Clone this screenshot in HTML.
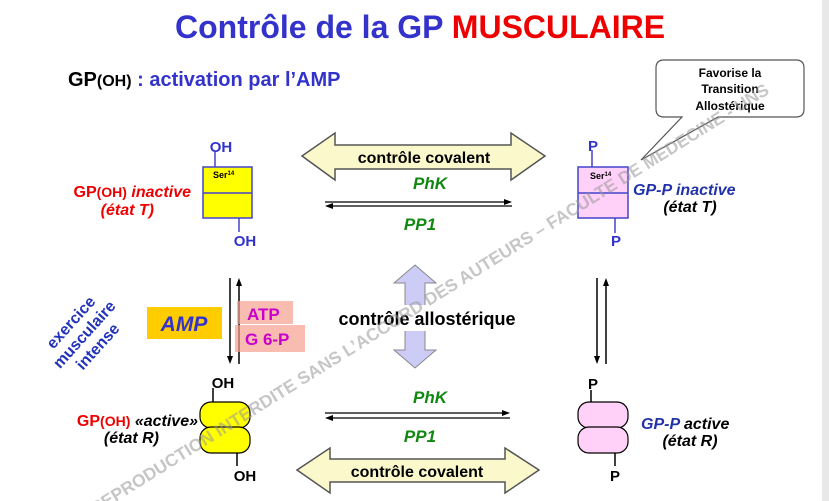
<!DOCTYPE html>
<html><head><meta charset="utf-8"><style>
html,body{margin:0;padding:0;background:#fff;width:829px;height:501px;overflow:hidden}
svg{display:block;font-family:"Liberation Sans",sans-serif}
</style></head><body>
<svg width="829" height="501" viewBox="0 0 829 501" xmlns="http://www.w3.org/2000/svg">
<rect x="822" y="0" width="7" height="501" fill="#e8e8e8"/>
<text x="175" y="38" font-size="32" font-weight="bold" fill="#3333cc">Contrôle de la GP <tspan fill="#ee0000">MUSCULAIRE</tspan></text>
<text x="68" y="86" font-size="20" font-weight="bold" fill="#000">GP<tspan font-size="16">(OH)</tspan> <tspan fill="#3333cc">: activation par l’AMP</tspan></text>

<!-- callout -->
<path d="M664,60 H796 Q804,60 804,68 V109 Q804,117 796,117 H718 L641,160 L682,117 H664 Q656,117 656,109 V68 Q656,60 664,60 Z" fill="#fff" stroke="#555" stroke-width="1.2"/>
<text x="730" y="77" font-size="12" font-weight="bold" text-anchor="middle">Favorise la</text>
<text x="730" y="93" font-size="12" font-weight="bold" text-anchor="middle">Transition</text>
<text x="730" y="110" font-size="12" font-weight="bold" text-anchor="middle">Allostérique</text>

<!-- top covalent arrow -->
<path d="M302,156 L335,133 V145 H511 V133 L545,156 L511,180 V169 H335 V180 Z" fill="#fbf8cc" stroke="#555" stroke-width="1.5"/>
<text x="424" y="163" font-size="16" font-weight="bold" text-anchor="middle">contrôle covalent</text>
<text x="430" y="189" font-size="17" font-weight="bold" font-style="italic" fill="#118811" text-anchor="middle">PhK</text>
<line x1="325" y1="202" x2="510" y2="202" stroke="#000" stroke-width="1.3"/><path d="M512,202 L504,199 L504,205 Z"/>
<line x1="328" y1="206" x2="512" y2="206" stroke="#000" stroke-width="1.3"/><path d="M325,206 L333,203 L333,209 Z"/>
<text x="420" y="230" font-size="17" font-weight="bold" font-style="italic" fill="#118811" text-anchor="middle">PP1</text>

<!-- bottom -->
<text x="430" y="403" font-size="17" font-weight="bold" font-style="italic" fill="#118811" text-anchor="middle">PhK</text>
<line x1="325" y1="413" x2="508" y2="413" stroke="#000" stroke-width="1.3"/><path d="M510,413 L502,410 L502,416 Z"/>
<line x1="328" y1="418" x2="510" y2="418" stroke="#000" stroke-width="1.3"/><path d="M325,418 L333,415 L333,421 Z"/>
<text x="420" y="442" font-size="17" font-weight="bold" font-style="italic" fill="#118811" text-anchor="middle">PP1</text>
<path d="M297,470 L330,448 V459 H505 V448 L539,470 L505,493 V482 H330 V493 Z" fill="#fbf8cc" stroke="#555" stroke-width="1.5"/>
<text x="417" y="477" font-size="16" font-weight="bold" text-anchor="middle">contrôle covalent</text>

<!-- allosteric -->
<path d="M415,265 L436,283 H425 V350 H436 L415,368 L394,350 H405 V283 H394 Z" fill="#ccccf6" stroke="#888" stroke-width="1"/>
<rect x="328" y="305" width="198" height="26" fill="#fff"/>
<text x="427" y="325" font-size="18" font-weight="bold" text-anchor="middle">contrôle allostérique</text>

<!-- vertical arrows -->
<line x1="230" y1="278" x2="230" y2="360" stroke="#000" stroke-width="1.5"/><path d="M230,364 L227,356 L233,356 Z"/>
<line x1="239" y1="282" x2="239" y2="364" stroke="#000" stroke-width="1.5"/><path d="M239,278 L236,286 L242,286 Z"/>
<line x1="597" y1="278" x2="597" y2="360" stroke="#000" stroke-width="1.5"/><path d="M597,364 L594,356 L600,356 Z"/>
<line x1="606" y1="282" x2="606" y2="364" stroke="#000" stroke-width="1.5"/><path d="M606,278 L603,286 L609,286 Z"/>

<rect x="147" y="307" width="75" height="32" fill="#ffcc00"/>
<text x="184" y="331" font-size="21" font-weight="bold" font-style="italic" fill="#3333cc" text-anchor="middle">AMP</text>
<rect x="237" y="301" width="56" height="23" fill="#f6a090" opacity="0.7"/>
<rect x="235" y="325" width="70" height="27" fill="#f6a090" opacity="0.7"/>
<text x="247" y="320" font-size="17" font-weight="bold" fill="#cc00cc">ATP</text>
<text x="245" y="345" font-size="17" font-weight="bold" fill="#cc00cc">G 6-P</text>

<g transform="translate(86,336) rotate(-48)" font-size="16" font-weight="bold" fill="#2233bb" text-anchor="middle">
<text x="0" y="-15">exercice</text><text x="0" y="3">musculaire</text><text x="0" y="21">intense</text></g>

<!-- top left box -->
<line x1="215" y1="152" x2="215" y2="167" stroke="#4444cc" stroke-width="1.5"/>
<line x1="239" y1="218" x2="239" y2="232" stroke="#4444cc" stroke-width="1.5"/>
<rect x="203" y="167" width="49" height="51" fill="#ffff00" stroke="#4444cc" stroke-width="1.5"/>
<line x1="203" y1="193" x2="252" y2="193" stroke="#4444cc" stroke-width="1.5"/>
<text x="213" y="178" font-size="9" font-weight="bold">Ser<tspan font-size="6" dy="-3">14</tspan></text>
<text x="221" y="152" font-size="15" font-weight="bold" fill="#3333cc" text-anchor="middle">OH</text>
<text x="245" y="246" font-size="15" font-weight="bold" fill="#3333cc" text-anchor="middle">OH</text>
<text x="191" y="197" font-size="16" font-weight="bold" fill="#ee0000" text-anchor="end">GP<tspan font-size="14">(OH)</tspan> <tspan font-style="italic">inactive</tspan></text>
<text x="154" y="215" font-size="16" font-weight="bold" font-style="italic" fill="#ee0000" text-anchor="end">(état T)</text>

<!-- right top box -->
<line x1="592" y1="150" x2="592" y2="167" stroke="#4444cc" stroke-width="1.5"/>
<line x1="615" y1="218" x2="615" y2="233" stroke="#4444cc" stroke-width="1.5"/>
<rect x="578" y="167" width="50" height="51" fill="#ffd0f8" stroke="#4444cc" stroke-width="1.5"/>
<line x1="578" y1="193" x2="628" y2="193" stroke="#4444cc" stroke-width="1.5"/>
<text x="590" y="179" font-size="9" font-weight="bold">Ser<tspan font-size="6" dy="-3">14</tspan></text>
<text x="593" y="151" font-size="15" font-weight="bold" fill="#3333cc" text-anchor="middle">P</text>
<text x="616" y="246" font-size="15" font-weight="bold" fill="#3333cc" text-anchor="middle">P</text>
<text x="633" y="195" font-size="16" font-weight="bold" font-style="italic" fill="#2233aa">GP-P inactive</text>
<text x="690" y="212" font-size="16" font-weight="bold" font-style="italic" fill="#000" text-anchor="middle">(état T)</text>

<!-- bottom left capsules -->
<line x1="213" y1="388" x2="213" y2="402" stroke="#000" stroke-width="1.5"/>
<line x1="237" y1="452" x2="237" y2="466" stroke="#000" stroke-width="1.5"/>
<rect x="200" y="402" width="50" height="26" rx="11" fill="#ffff00" stroke="#000" stroke-width="1.2"/>
<rect x="200" y="427" width="50" height="26" rx="11" fill="#ffff00" stroke="#000" stroke-width="1.2"/>
<text x="223" y="388" font-size="15" font-weight="bold" text-anchor="middle">OH</text>
<text x="245" y="481" font-size="15" font-weight="bold" text-anchor="middle">OH</text>
<text x="198" y="426" font-size="16" font-weight="bold" fill="#ee0000" text-anchor="end">GP<tspan font-size="14">(OH)</tspan> <tspan fill="#000" font-style="italic">«active»</tspan></text>
<text x="159" y="443" font-size="16" font-weight="bold" font-style="italic" text-anchor="end">(état R)</text>

<!-- bottom right capsules -->
<line x1="591" y1="390" x2="591" y2="402" stroke="#000" stroke-width="1.5"/>
<line x1="615" y1="452" x2="615" y2="466" stroke="#000" stroke-width="1.5"/>
<rect x="578" y="402" width="50" height="26" rx="11" fill="#ffd0f8" stroke="#000" stroke-width="1.2"/>
<rect x="578" y="427" width="50" height="26" rx="11" fill="#ffd0f8" stroke="#000" stroke-width="1.2"/>
<text x="593" y="389" font-size="15" font-weight="bold" text-anchor="middle">P</text>
<text x="615" y="481" font-size="15" font-weight="bold" text-anchor="middle">P</text>
<text x="641" y="429" font-size="16" font-weight="bold" font-style="italic" fill="#2233aa">GP-P <tspan fill="#000">active</tspan></text>
<text x="690" y="446" font-size="16" font-weight="bold" font-style="italic" text-anchor="middle">(état R)</text>

<!-- watermark -->
<text x="0" y="0" transform="translate(95,515) rotate(-32)" font-size="17.5" font-weight="bold" fill="#999" opacity="0.55">REPRODUCTION INTERDITE SANS L’ACCORD DES AUTEURS – FACULTE DE MEDECINE - UNS</text>
</svg>
</body></html>
